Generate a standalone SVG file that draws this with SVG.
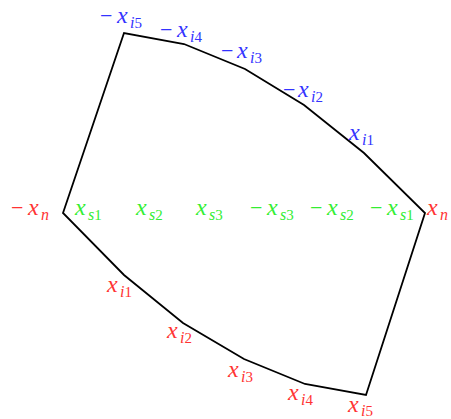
<svg xmlns="http://www.w3.org/2000/svg" width="451" height="419" viewBox="0 0 451 419">
<style>
text{font-family:"Liberation Serif","Times New Roman",serif;font-size:22px}
.v{font-style:italic;font-size:24px}
.s{font-style:italic;font-size:16px}
.d{font-size:15px}
.b{fill:#3333ff}
.r{fill:#ff3333}
.g{fill:#33ee33}
.edge{fill:none;stroke:#000;stroke-width:1.8;stroke-linejoin:miter}
</style>
<rect width="451" height="419" fill="#fff"/>
<g id="connectors">
<polygon class="edge" points="63,213 124,33 184,44 245,69 304,105 364,153 425,213 366,395 305,384 244,359 183,323 124,275"/>
</g>
<g id="top-labels">
<text class="b" y="23"><tspan x="100">−</tspan><tspan class="v" x="117">x</tspan><tspan class="s" x="130" y="28">i</tspan><tspan class="d">5</tspan></text>
<text class="b" y="37"><tspan x="160">−</tspan><tspan class="v" x="177">x</tspan><tspan class="s" x="190" y="42">i</tspan><tspan class="d">4</tspan></text>
<text class="b" y="58"><tspan x="221">−</tspan><tspan class="v" x="237">x</tspan><tspan class="s" x="250" y="63">i</tspan><tspan class="d">3</tspan></text>
<text class="b" y="97"><tspan x="283">−</tspan><tspan class="v" x="298">x</tspan><tspan class="s" x="311" y="102">i</tspan><tspan class="d">2</tspan></text>
<text class="b" y="140"><tspan class="v" x="349">x</tspan><tspan class="s" x="362" y="145">i</tspan><tspan class="d">1</tspan></text>
</g>
<g id="middle-labels">
<text class="r" y="215"><tspan x="11">−</tspan><tspan class="v" x="28">x</tspan><tspan class="s" x="41" y="220">n</tspan></text>
<text class="g" y="215"><tspan class="v" x="75">x</tspan><tspan class="s" x="88" y="220">s</tspan><tspan class="d">1</tspan></text>
<text class="g" y="215"><tspan class="v" x="136">x</tspan><tspan class="s" x="149" y="220">s</tspan><tspan class="d">2</tspan></text>
<text class="g" y="215"><tspan class="v" x="196">x</tspan><tspan class="s" x="209" y="220">s</tspan><tspan class="d">3</tspan></text>
<text class="g" y="215"><tspan x="250">−</tspan><tspan class="v" x="267">x</tspan><tspan class="s" x="280" y="220">s</tspan><tspan class="d">3</tspan></text>
<text class="g" y="215"><tspan x="310">−</tspan><tspan class="v" x="327">x</tspan><tspan class="s" x="340" y="220">s</tspan><tspan class="d">2</tspan></text>
<text class="g" y="215"><tspan x="370">−</tspan><tspan class="v" x="387">x</tspan><tspan class="s" x="400" y="220">s</tspan><tspan class="d">1</tspan></text>
<text class="r" y="215"><tspan class="v" x="427">x</tspan><tspan class="s" x="440" y="220">n</tspan></text>
</g>
<g id="bottom-labels">
<text class="r" y="292"><tspan class="v" x="107">x</tspan><tspan class="s" x="120" y="297">i</tspan><tspan class="d">1</tspan></text>
<text class="r" y="338"><tspan class="v" x="167">x</tspan><tspan class="s" x="180" y="343">i</tspan><tspan class="d">2</tspan></text>
<text class="r" y="377"><tspan class="v" x="228">x</tspan><tspan class="s" x="241" y="382">i</tspan><tspan class="d">3</tspan></text>
<text class="r" y="400"><tspan class="v" x="288">x</tspan><tspan class="s" x="301" y="405">i</tspan><tspan class="d">4</tspan></text>
<text class="r" y="412"><tspan class="v" x="348">x</tspan><tspan class="s" x="361" y="416">i</tspan><tspan class="d">5</tspan></text>
</g>
</svg>
